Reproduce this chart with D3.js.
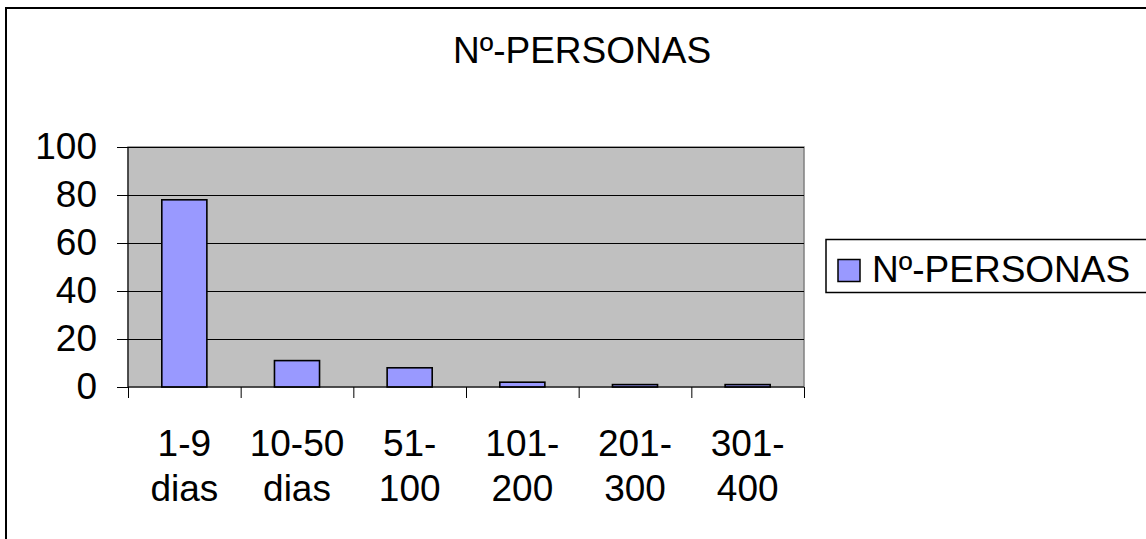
<!DOCTYPE html>
<html><head><meta charset="utf-8">
<script src="https://cdn.jsdelivr.net/npm/d3@7"></script>
<style>body{margin:0;background:#fff}svg{display:block}text{font-family:"Liberation Sans",Arial,sans-serif;fill:#000}</style>
</head><body>
<script>
const categories = [["1-9","dias"],["10-50","dias"],["51-","100"],["101-","200"],["201-","300"],["301-","400"]];
const values = [78, 11, 8, 2, 1, 1];
const yTicks = [0, 20, 40, 60, 80, 100];
const seriesName = "Nº-PERSONAS";
const title = "Nº-PERSONAS";

const W = 1146, H = 539;
const svg = d3.select("body").append("svg").attr("width", W).attr("height", H);
const m = {left:128, right:804, top:147, bottom:387};
const fs = 37;

svg.append("rect").attr("x",6).attr("y",8).attr("width",W+10).attr("height",H+10)
  .attr("fill","#fff").attr("stroke","#000").attr("stroke-width",2);

svg.append("text").attr("x",582).attr("y",63).attr("text-anchor","middle")
  .attr("font-size",fs).text(title);

const keys = categories.map(c => c.join(" "));
const x = d3.scaleBand().domain(keys).range([m.left, m.right]).paddingInner(0.6).paddingOuter(0.3);
const xb = d3.scaleBand().domain(keys).range([m.left, m.right]);
const y = d3.scaleLinear().domain([0,100]).range([m.bottom, m.top]);

svg.append("rect").attr("x",m.left).attr("y",m.top).attr("width",m.right-m.left).attr("height",m.bottom-m.top)
  .attr("fill","#C0C0C0").attr("stroke","#808080").attr("stroke-width",1.5);

svg.append("g").selectAll("line").data(yTicks.filter(t=>t>0)).join("line")
  .attr("x1",m.left).attr("x2",m.right).attr("y1",d=>y(d)+0.5).attr("y2",d=>y(d)+0.5)
  .attr("stroke","#000").attr("stroke-width",1);

svg.append("g").selectAll("rect").data(values).join("rect")
  .attr("x",(d,i)=>x(keys[i])).attr("width",x.bandwidth())
  .attr("y",d=>y(d)).attr("height",d=>m.bottom-y(d))
  .attr("fill","#9999FF").attr("stroke","#000").attr("stroke-width",1.6);

// y axis
const ya = svg.append("g").attr("transform",`translate(${m.left},0)`)
  .call(d3.axisLeft(y).tickValues(yTicks).tickSize(11).tickPadding(20));
ya.select(".domain").attr("stroke","#000").attr("d",`M0,${m.top}V${m.bottom}`);
ya.selectAll(".tick line").attr("stroke","#000");
ya.selectAll(".tick text").attr("font-size",fs).attr("font-family","Liberation Sans, Arial, sans-serif").attr("fill","#000");

// x axis
const xa = svg.append("g").attr("transform",`translate(0,${m.bottom})`)
  .call(d3.axisBottom(xb).tickSize(0).tickFormat(""));
xa.select(".domain").attr("stroke","#000").attr("d",`M${m.left},0H${m.right}`);
const edges = keys.map(k=>xb(k)).concat([m.right]);
xa.selectAll("line.edge").data(edges).join("line").attr("class","edge")
  .attr("x1",d=>d+0.5).attr("x2",d=>d+0.5).attr("y1",0).attr("y2",11).attr("stroke","#000");
xa.selectAll(".tick").each(function(k,i){
  const t = d3.select(this).append("text").attr("text-anchor","middle").attr("font-size",fs)
    .attr("font-family","Liberation Sans, Arial, sans-serif").attr("fill","#000");
  t.append("tspan").attr("x",0).attr("y",69).text(categories[i][0]);
  t.append("tspan").attr("x",0).attr("y",114).text(categories[i][1]);
});

// legend
const lg = svg.append("g");
lg.append("rect").attr("x",826).attr("y",239.5).attr("width",400).attr("height",53)
  .attr("fill","#fff").attr("stroke","#000").attr("stroke-width",1.5);
lg.append("rect").attr("x",838).attr("y",259.5).attr("width",22).attr("height",22)
  .attr("fill","#9999FF").attr("stroke","#000").attr("stroke-width",1.5);
lg.append("text").attr("x",872).attr("y",282).attr("font-size",fs).text(seriesName);
</script>
</body></html>
